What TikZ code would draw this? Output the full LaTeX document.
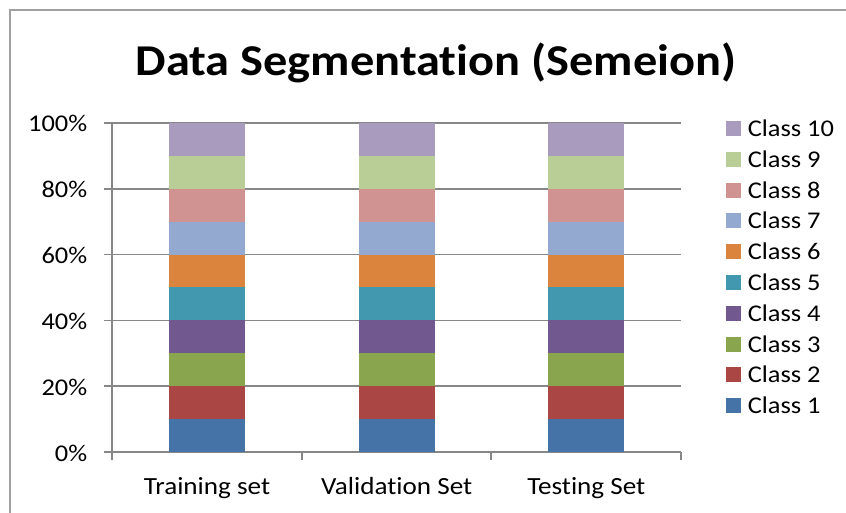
\documentclass[tikz,border=0pt]{standalone}
\usepackage{fontspec}
\setmainfont{Carlito}[FakeStretch=1.1, Ligatures=NoCommon]
\definecolor{clsA}{HTML}{4572A7}
\definecolor{clsB}{HTML}{AA4643}
\definecolor{clsC}{HTML}{89A54E}
\definecolor{clsD}{HTML}{71588F}
\definecolor{clsE}{HTML}{4198AF}
\definecolor{clsF}{HTML}{DB843D}
\definecolor{clsG}{HTML}{93A9CF}
\definecolor{clsH}{HTML}{D19392}
\definecolor{clsI}{HTML}{B9CD96}
\definecolor{clsJ}{HTML}{A99BBD}
\definecolor{gridgray}{HTML}{878787}
\definecolor{framegray}{HTML}{A0A0A0}
\tikzset{
  chartframe/.style={draw=framegray, line width=1.5pt},
  gridline/.style={draw=gridgray, line width=1.4pt},
  axislabel/.style={font=\fontsize{18}{21}\selectfont, inner sep=0pt},
  catlabel/.style={font=\fontsize{18.5}{22}\selectfont, inner sep=0pt, anchor=base},
  legendtext/.style={font=\fontsize{18}{21}\selectfont, inner sep=0pt, anchor=base west},
  charttitle/.style={font=\fontsize{33}{40}\selectfont\bfseries, inner sep=0pt, anchor=base}
}
\begin{document}
\begin{tikzpicture}[x=0.75pt, y=-0.75pt]
\useasboundingbox (0,0) rectangle (846,513);
\clip (0,0) rectangle (846,513);
% chart area border (runs off the right and bottom edges)
\draw[chartframe] (10,530) -- (10,10) -- (860,10);
% title
\node[charttitle] (title) at (436,76) {Data Segmentation (Semeion)};
% horizontal gridlines and value labels
\foreach \p/\t in {0/0\%,20/20\%,40/40\%,60/60\%,80/80\%,100/100\%}{
  \draw[gridline] (104,{452.3-3.296*\p}) -- (681,{452.3-3.296*\p});
  \node[axislabel, anchor=base east] (ylab\p) at (87.5,{452.3-3.296*\p+9}) {\t};
}
% vertical axis and category ticks
\draw[gridline] (112.3,122.7) -- (112.3,460);
\foreach \x in {301.6,491.2,681}{
  \draw[gridline] (\x,452.3) -- (\x,460);
}
% stacked bars: ten classes, each 10%
\foreach \cx/\nm in {207/train,396.7/valid,586.3/test}{
  \foreach \k/\c in {1/clsA,2/clsB,3/clsC,4/clsD,5/clsE,6/clsF,7/clsG,8/clsH,9/clsI,10/clsJ}{
    \fill[\c] (\cx-38,{452.3-32.96*(\k-1)}) rectangle (\cx+38,{452.3-32.96*\k});
  }
}
% category labels
\node[catlabel] (cat1) at (207,494) {Training set};
\node[catlabel] (cat2) at (396.7,494) {Validation Set};
\node[catlabel] (cat3) at (586.3,494) {Testing Set};
% legend
\foreach \k/\c in {10/clsJ,9/clsI,8/clsH,7/clsG,6/clsF,5/clsE,4/clsD,3/clsC,2/clsB,1/clsA}{
  \pgfmathsetmacro{\ly}{128.5+30.8*(10-\k)}
  \fill[\c] (726,\ly-7.5) rectangle (741,\ly+7.5);
  \node[legendtext] (leg\k) at (747.5,\ly+8) {Class \k};
}
\end{tikzpicture}
\end{document}
